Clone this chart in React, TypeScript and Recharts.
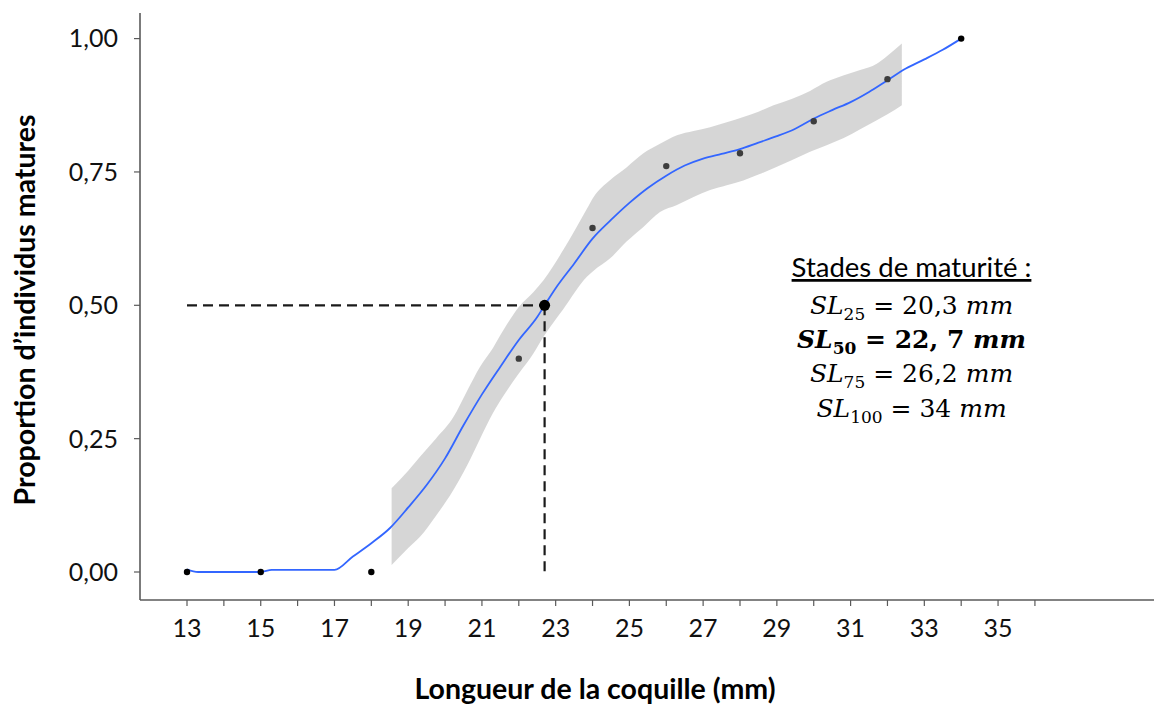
import React from "react";
import {
  ComposedChart,
  Line,
  Area,
  Scatter,
  XAxis,
  YAxis,
  ReferenceLine,
} from "recharts";

// ---- Data ----
const pointX = [13, 15, 18, 22, 24, 26, 28, 30, 32, 34];
const pointY = [0, 0, 0, 0.4, 0.645, 0.761, 0.785, 0.845, 0.924, 1.0];

const fitX = [
  13, 13.3, 15, 15.3, 17, 17.5, 18, 18.5, 19, 19.5, 20, 20.5, 21, 21.5, 22, 22.5,
  22.7, 23, 23.5, 24, 24.5, 25, 25.5, 26, 26.5, 27, 27.5, 28, 28.5, 29, 29.5, 30,
  30.5, 31, 31.5, 32, 32.5, 33, 33.5, 34,
];
const fitY = [
  0.005, 0.0, 0.0, 0.004, 0.004, 0.029, 0.054, 0.082, 0.121, 0.163, 0.213, 0.275,
  0.333, 0.385, 0.435, 0.478, 0.5, 0.532, 0.578, 0.625, 0.66, 0.692, 0.72, 0.743,
  0.762, 0.775, 0.784, 0.793, 0.805, 0.817, 0.831, 0.85, 0.866, 0.881, 0.9,
  0.922, 0.944, 0.961, 0.979, 1.0,
];

const bandX = [
  18.55, 19.0, 19.32, 19.75, 20.23, 20.6, 20.95, 21.3, 21.58, 22.0, 22.4, 22.67,
  23.2, 23.84, 24.03, 24.48, 24.93, 25.38, 25.83, 26.29, 26.74, 27.19, 27.64,
  28.09, 28.5, 28.91, 29.4, 29.9, 30.35, 30.8, 31.26, 31.71, 32.0, 32.39,
];
const bandLow = [
  0.013, 0.045, 0.066, 0.105, 0.154, 0.2, 0.25, 0.298, 0.33, 0.372, 0.41, 0.441,
  0.492, 0.553, 0.565, 0.588, 0.62, 0.647, 0.675, 0.688, 0.703, 0.716, 0.725,
  0.734, 0.745, 0.757, 0.772, 0.788, 0.8, 0.813, 0.83, 0.847, 0.858, 0.875,
];
const bandHigh = [
  0.157, 0.19, 0.216, 0.25, 0.291, 0.34, 0.385, 0.42, 0.453, 0.497, 0.525, 0.547,
  0.603, 0.68, 0.703, 0.735, 0.759, 0.785, 0.803, 0.819, 0.827, 0.834, 0.843,
  0.853, 0.863, 0.875, 0.887, 0.902, 0.919, 0.931, 0.941, 0.953, 0.968, 0.991,
];

const SL50_X = 22.7;
const SL50_Y = 0.5;
const dashStartX = 13;

const xTicks = [
  13, 14, 15, 16, 17, 18, 19, 20, 21, 22, 23, 24, 25, 26, 27, 28, 29, 30, 31, 32,
  33, 34, 35, 36,
];
const yTicks = [0, 0.25, 0.5, 0.75, 1.0];

const xTitle = "Longueur de la coquille (mm)";
const yTitle = "Proportion d’individus matures";
const boxTitle = "Stades de maturité :";
const stages = [
  { sub: "25", value: "20,3", bold: false },
  { sub: "50", value: "22, 7", bold: true },
  { sub: "75", value: "26,2", bold: false },
  { sub: "100", value: "34", bold: false },
];

// ---- Tables ----
const points = pointX.map((x, i) => ({ x, y: pointY[i] }));
const fit = fitX.map((x, i) => ({ x, y: fitY[i] }));
const band = bandX.map((x, i) => ({ x, range: [bandLow[i], bandHigh[i]] }));
const sl50 = [{ x: SL50_X, y: SL50_Y }];

const bandMin = bandX[0];
const bandMax = bandX[bandX.length - 1];

const SANS = "Lato, 'Open Sans', sans-serif";
const SERIF = "'DejaVu Serif', 'Liberation Serif', serif";

const W = 1154;
const H = 705;

const PointShape = (p: any) => {
  const inBand = p.payload && p.payload.x >= bandMin && p.payload.x <= bandMax;
  return <circle cx={p.cx} cy={p.cy} r={3.2} fill={inBand ? "#3d3d3d" : "#000"} />;
};
const BigShape = (p: any) => <circle cx={p.cx} cy={p.cy} r={5.5} fill="#000" />;

const fmtY = (v: number) => v.toFixed(2).replace(".", ",");
const fmtX = (v: number) => (v % 2 === 1 ? String(v) : "");

export default function App() {
  const boxX = 911.5;
  const lineYs = [314, 348, 382, 417];
  return (
    <div style={{ position: "absolute", left: 0, top: 0, width: W, height: H, background: "#fff" }}>
      <ComposedChart
        width={W}
        height={H}
        margin={{ top: 13, right: 0, bottom: 45, left: 0 }}
      >
        <XAxis
          type="number"
          dataKey="x"
          domain={[11.725, 39.23]}
          allowDataOverflow
          ticks={xTicks}
          interval={0}
          tickFormatter={fmtX}
          height={60}
          tickSize={6}
          tickMargin={13}
          axisLine={{ stroke: "#5a5a5a", strokeWidth: 1.6 }}
          tickLine={{ stroke: "#5a5a5a", strokeWidth: 1.2 }}
          tick={{ fill: "#111", fontSize: 25, fontFamily: SANS }}
        />
        <YAxis
          type="number"
          dataKey="y"
          domain={[-0.0525, 1.048]}
          allowDataOverflow
          ticks={yTicks}
          interval={0}
          tickFormatter={fmtY}
          width={140}
          tickSize={6}
          tickMargin={16}
          axisLine={{ stroke: "#5a5a5a", strokeWidth: 1.6 }}
          tickLine={{ stroke: "#5a5a5a", strokeWidth: 1.2 }}
          tick={{ fill: "#111", fontSize: 25, fontFamily: SANS }}
        />
        <Scatter data={points} dataKey="y" shape={PointShape} isAnimationActive={false} />
        <Area
          data={band}
          dataKey="range"
          type="monotone"
          stroke="none"
          fill="#999999"
          fillOpacity={0.4}
          isAnimationActive={false}
          dot={false}
          activeDot={false}
        />
        <Line
          data={fit}
          dataKey="y"
          type="monotone"
          stroke="#3366ff"
          strokeWidth={1.8}
          dot={false}
          activeDot={false}
          isAnimationActive={false}
        />
        <ReferenceLine
          segment={[
            { x: dashStartX, y: SL50_Y },
            { x: SL50_X, y: SL50_Y },
          ]}
          stroke="#1a1a1a"
          strokeWidth={2.2}
          strokeDasharray="10 6"
        />
        <ReferenceLine
          segment={[
            { x: SL50_X, y: SL50_Y },
            { x: SL50_X, y: 0 },
          ]}
          stroke="#1a1a1a"
          strokeWidth={2.2}
          strokeDasharray="10 6"
        />
        <Scatter data={sl50} dataKey="y" shape={BigShape} isAnimationActive={false} />

        <text
          x={595}
          y={699}
          textAnchor="middle"
          fontFamily={SANS}
          fontWeight={700}
          fontSize={28.5}
          fill="#000"
        >
          {xTitle}
        </text>
        <text
          x={0}
          y={0}
          transform={`translate(35, 310) rotate(-90)`}
          textAnchor="middle"
          fontFamily={SANS}
          fontWeight={700}
          fontSize={28.5}
          fill="#000"
        >
          {yTitle}
        </text>
        <text
          x={boxX}
          y={277}
          textAnchor="middle"
          fontFamily={SANS}
          fontSize={27.5}
          fill="#000"
          textDecoration="underline"
          style={{ textDecoration: "underline" }}
        >
          {boxTitle}
        </text>
        {stages.map((s, i) => (
          <text
            key={s.sub}
            x={boxX}
            y={lineYs[i]}
            textAnchor="middle"
            fontFamily={SERIF}
            fontSize={25}
            fontWeight={s.bold ? 700 : 400}
            fill="#000"
          >
            <tspan fontStyle="italic">SL</tspan>
            <tspan fontSize={17} dy={6}>
              {s.sub}
            </tspan>
            <tspan dy={-6}>{" = " + s.value + " "}</tspan>
            <tspan fontStyle="italic">mm</tspan>
          </text>
        ))}
      </ComposedChart>
    </div>
  );
}
